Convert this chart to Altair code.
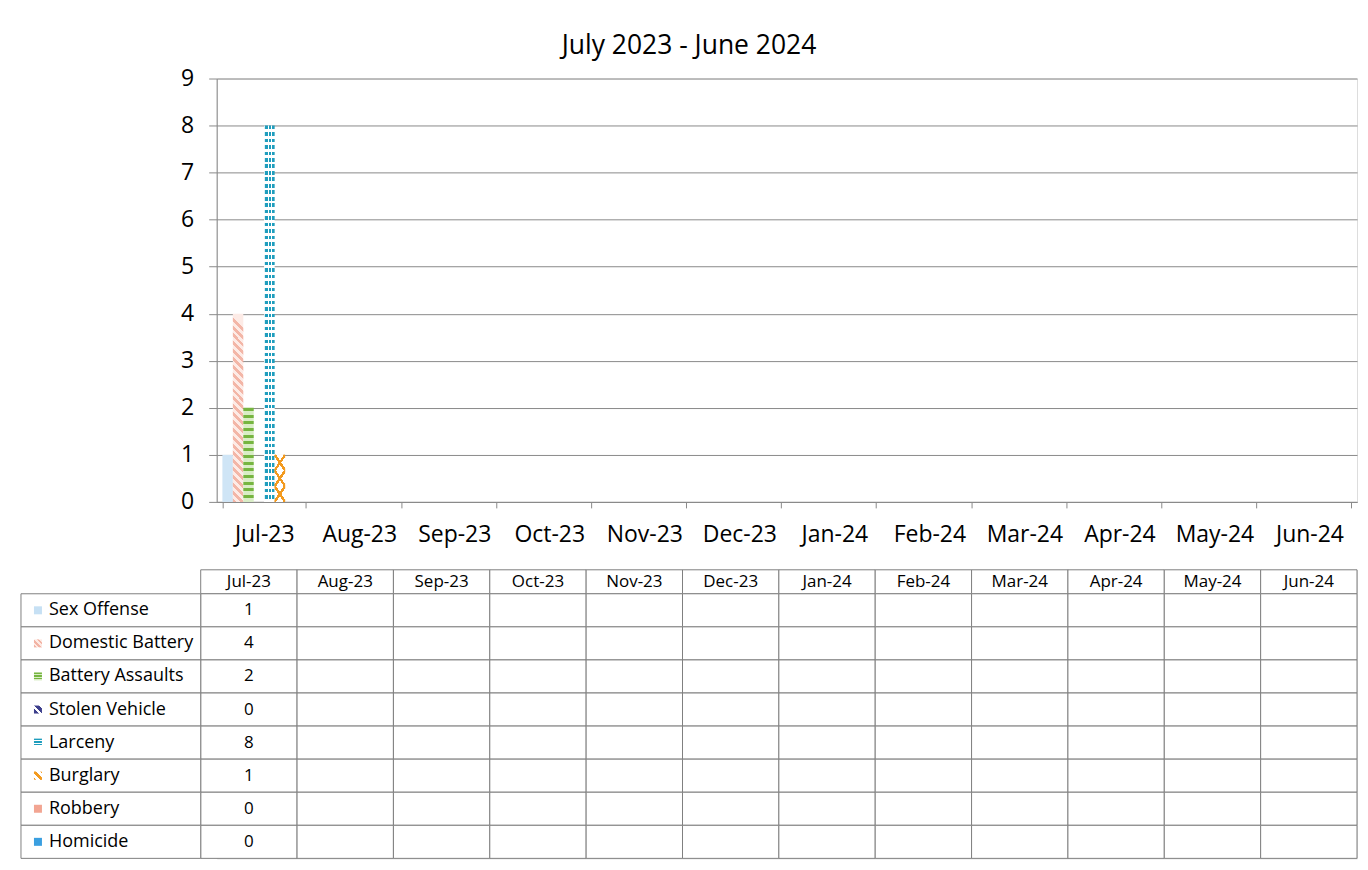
import altair as alt
import pandas as pd

months = ["Jul-23", "Aug-23", "Sep-23", "Oct-23", "Nov-23", "Dec-23",
          "Jan-24", "Feb-24", "Mar-24", "Apr-24", "May-24", "Jun-24"]
series = ["Sex Offense", "Domestic Battery", "Battery Assaults", "Stolen Vehicle",
          "Larceny", "Burglary", "Robbery", "Homicide"]
jul_values = [1, 4, 2, 0, 8, 1, 0, 0]

FONT = "Open Sans"
GRID = "#8a8a8a"
CELL = "#7f7f7f"
TRANSP = "rgba(255,255,255,0)"

PLOT_W = 1142
LABEL_LEFT = -196   # label column left edge, relative to plot origin
LABEL_RIGHT = -16   # label column right edge / month grid left edge


def stripes(c_line, c_bg, n, duty, x1, y1, x2, y2):
    stops = []
    for k in range(n):
        a = round(k / n, 5)
        b = round((k + duty) / n, 5)
        c = round((k + 1) / n, 5)
        stops += [{"offset": a, "color": c_line}, {"offset": b, "color": c_line},
                  {"offset": b, "color": c_bg}, {"offset": c, "color": c_bg}]
    return {"gradient": "linear", "x1": x1, "y1": y1, "x2": x2, "y2": y2, "stops": stops}


def lines(c_line, c_bg, n, hw, x1, y1, x2, y2):
    stops = []
    for k in range(n + 1):
        c = k / n
        lo = round(max(0.0, c - hw), 5)
        hi = round(min(1.0, c + hw), 5)
        stops += [{"offset": lo, "color": c_bg}, {"offset": lo, "color": c_line},
                  {"offset": hi, "color": c_line}, {"offset": hi, "color": c_bg}]
    return {"gradient": "linear", "x1": x1, "y1": y1, "x2": x2, "y2": y2, "stops": stops}


# bar fills (patterns imitated with hard-stop gradients)
fills = {
    "Sex Offense": ["#cfe5f6"],
    "Domestic Battery": [stripes("#f3b6a7", "#fdebe6", 24, 0.5, 0, 1, 0.056, 0)],
    "Battery Assaults": [stripes("#76b540", "#d9edc6", 14, 0.45, 0, 0, 0, 1)],
    "Larceny": [stripes("#1f9dbd", "#ffffff", 58, 0.55, 0, 0, 0, 1),
                stripes("#ffffff", TRANSP, 3, 0.3, 0, 0, 1, 0)],
    "Burglary": [lines("#f39a1e", "#ffffff", 4, 0.035, 0, 1, 0.4, -0.2),
                 lines("#f39a1e", TRANSP, 4, 0.035, 0, 0, 0.4, 1.2)],
    "Stolen Vehicle": ["#3d3f8c"],
    "Robbery": ["#f2a592"],
    "Homicide": ["#3a9fe0"],
}

# legend-key fills for the table
keys = {
    "Sex Offense": ["#c6e0f4"],
    "Domestic Battery": [stripes("#f2b3a4", "#fde9e3", 3, 0.5, 0, 1, 1, 0)],
    "Battery Assaults": [stripes("#76b540", "#d9edc6", 3, 0.55, 0, 0, 0, 1)],
    "Stolen Vehicle": [stripes("#3d3f8c", "#ffffff", 2, 0.6, 0, 1, 1, 0)],
    "Larceny": [stripes("#1f9dbd", "#ffffff", 3, 0.55, 0, 0, 0, 1)],
    "Burglary": [lines("#f39a1e", "#ffffff", 1, 0.12, 0, 0, 1, 1),
                 lines("#f39a1e", TRANSP, 2, 0.12, 0, 1, 1, 0)],
    "Robbery": ["#f2a592"],
    "Homicide": ["#3a9fe0"],
}

bars_df = pd.DataFrame({"month": ["Jul-23"] * len(series), "series": series, "value": jul_values})

x_enc = alt.X("month:N",
              scale=alt.Scale(domain=months, paddingInner=0.12, paddingOuter=0.06),
              axis=alt.Axis(title=None, labelAngle=0, labelFontSize=23, labelFont=FONT,
                            labelColor="black", labelPadding=16, tickBand="extent",
                            tickSize=6, tickColor=GRID, domainColor=GRID, grid=False))
y_enc = alt.Y("value:Q",
              scale=alt.Scale(domain=[0, 9], nice=False),
              axis=alt.Axis(title=None, values=list(range(10)), labelFontSize=23,
                            labelFont=FONT, labelColor="black", labelPadding=15,
                            tickSize=8, tickColor=GRID, domainColor=GRID,
                            grid=True, gridColor=GRID, gridOpacity=1))
xo_enc = alt.XOffset("series:N", scale=alt.Scale(domain=series, paddingInner=0, paddingOuter=0))

base = alt.Chart(bars_df).encode(x=x_enc, y=y_enc, xOffset=xo_enc)
layers = []
for s in series:
    for f in fills[s]:
        layers.append(base.transform_filter(alt.datum.series == s).mark_bar(fill=f, strokeWidth=0))

top = alt.layer(*layers).properties(width=PLOT_W, height=424)

# ---- data table ----
ROW_H = 33.1
HDR = 24 / ROW_H
NROWS = len(series)
cells = []
for m in months:
    cells.append({"month": m, "top": 0.0, "bot": HDR, "text": m, "hdr": 1})
    for i, s in enumerate(series):
        txt = str(jul_values[i]) if m == "Jul-23" else ""
        cells.append({"month": m, "top": HDR + i, "bot": HDR + i + 1, "text": txt, "hdr": 0})
cells_df = pd.DataFrame(cells)
cells_df["mid"] = (cells_df["top"] + cells_df["bot"]) / 2

ysc = alt.Scale(domain=[0, HDR + NROWS], reverse=True, nice=False, zero=False)
xg = alt.X("month:N", scale=alt.Scale(domain=months, range=[LABEL_RIGHT, PLOT_W],
                                      paddingInner=0, paddingOuter=0), axis=None)

grid_rect = alt.Chart(cells_df).mark_rect(fill="white", stroke=CELL, strokeWidth=1).encode(
    x=xg, y=alt.Y("top:Q", scale=ysc, axis=None), y2="bot:Q")
grid_text = alt.Chart(cells_df).mark_text(font=FONT, fontSize=17, baseline="middle",
                                          color="black").encode(
    x=xg, y=alt.Y("mid:Q", scale=ysc, axis=None), text="text:N")

lab_df = pd.DataFrame({"series": series,
                       "top": [HDR + i for i in range(NROWS)],
                       "bot": [HDR + i + 1 for i in range(NROWS)]})
lab_df["mid"] = (lab_df["top"] + lab_df["bot"]) / 2

lab_rect = alt.Chart(lab_df).mark_rect(fill="white", stroke=CELL, strokeWidth=1).encode(
    x=alt.value(LABEL_LEFT), x2=alt.value(LABEL_RIGHT),
    y=alt.Y("top:Q", scale=ysc, axis=None), y2="bot:Q")
lab_base = alt.Chart(lab_df).encode(y=alt.Y("mid:Q", scale=ysc, axis=None))
key_layers = []
for s in series:
    for f in keys[s]:
        key_layers.append(
            lab_base.transform_filter(alt.datum.series == s)
            .mark_square(fill=f, size=64, opacity=1, strokeWidth=0)
            .encode(x=alt.value(LABEL_LEFT + 17)))
lab_text = lab_base.mark_text(font=FONT, fontSize=18, align="left", baseline="middle",
                              color="black").encode(
    x=alt.value(LABEL_LEFT + 28), text="series:N")

table = alt.layer(grid_rect, grid_text, lab_rect, *key_layers, lab_text).properties(
    width=PLOT_W, height=round(24 + NROWS * ROW_H))

chart = alt.vconcat(top, table, spacing=21).resolve_scale(
    x="independent", y="independent").properties(
    title=alt.TitleParams("July 2023 - June 2024", fontSize=26.5, font=FONT, fontWeight="normal",
                          anchor="middle", offset=8, color="black"),
    padding={"left": 12, "top": 24, "right": 2, "bottom": 0},
).configure_view(stroke=None).configure(background="white", font=FONT)

chart.save("out.html", embed_options={"renderer": "svg", "actions": False})
